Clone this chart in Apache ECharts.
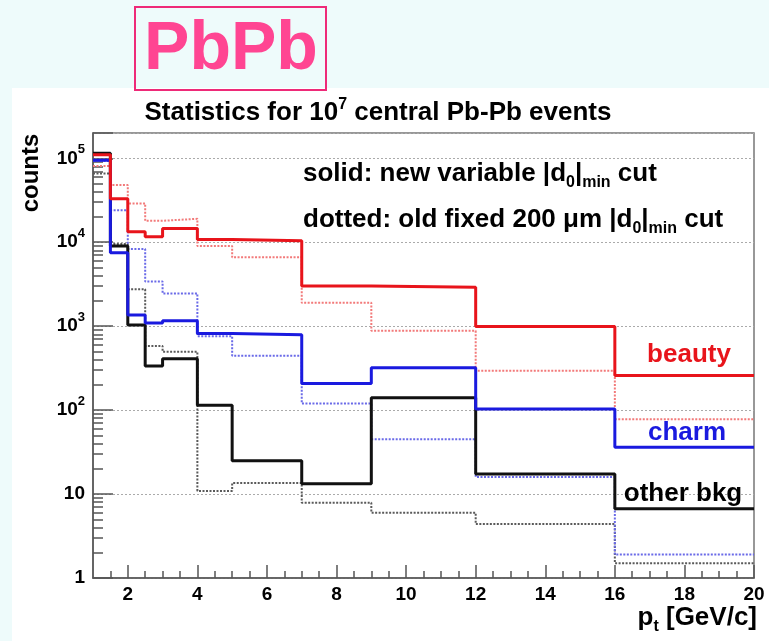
<!DOCTYPE html>
<html>
<head>
<meta charset="utf-8">
<script src="https://cdn.jsdelivr.net/npm/echarts@6/dist/echarts.min.js"></script>
<style>
  html, body { margin: 0; padding: 0; background: #eefbfb; }
  #chart { width: 769px; height: 641px; }
</style>
</head>
<body>
<div id="chart"></div>
<script>
// pt bin edges [GeV/c]
const binEdges = [1, 1.5, 2, 2.5, 3, 4, 5, 7, 9, 12, 16, 20];

// counts per bin, new variable |d0|min cut (solid)
const beautyNew = [110000, 33000, 13300, 11600, 14600, 10800, 10400, 3000, 2900, 990, 258];
const charmNew  = [95000, 7500, 1360, 1090, 1160, 820, 790, 207, 320, 103, 36];
const bkgNew    = [115000, 9000, 1030, 335, 410, 114, 25, 13.3, 140, 17.3, 6.7];

// counts per bin, old fixed 200 um |d0|min cut (dotted)
const beautyOld = [81000, 48000, 29000, 18000, 19000, 9000, 6600, 1900, 880, 295, 78];
const charmOld  = [93000, 24000, 8300, 3400, 2450, 760, 445, 120, 45, 16, 1.9];
const bkgOld    = [66000, 9500, 2750, 580, 495, 10.9, 13.5, 7.9, 6.0, 4.4, 1.5];

// axis ticks
const xMajorTicks = [2, 4, 6, 8, 10, 12, 14, 16, 18, 20];
const xMinorTicks = [1.5, 2.5, 3, 3.5, 4.5, 5, 5.5, 6.5, 7, 7.5, 8.5, 9, 9.5, 10.5, 11, 11.5,
                     12.5, 13, 13.5, 14.5, 15, 15.5, 16.5, 17, 17.5, 18.5, 19, 19.5];
const yMinorTicks = [];
for (let d = 1; d <= 100000; d *= 10) {
  for (let m = 2; m <= 9; m++) {
    if (m * d <= 200000) yMinorTicks.push(m * d);
  }
}

const FONT = 'Liberation Sans, Arial, Helvetica, sans-serif';

function histogram(values) {
  const pts = values.map((v, i) => [binEdges[i], v]);
  pts.push([binEdges[binEdges.length - 1], values[values.length - 1]]);
  return pts;
}

function stepSeries(name, values, color, width, dotted, z) {
  return {
    name: name,
    type: 'line',
    step: 'end',
    xAxisIndex: 0,
    yAxisIndex: 0,
    data: histogram(values),
    symbol: 'none',
    showSymbol: false,
    lineStyle: { color: color, width: width, type: dotted ? [2, 1.5] : 'solid', cap: 'butt' },
    z: z,
    silent: true
  };
}

const chart = echarts.init(document.getElementById('chart'), null, { renderer: 'canvas' });

const textBold = (size, color) => ({ fontFamily: FONT, fontWeight: 'bold', fontSize: size, fill: color || '#000' });
const subStyle = (size) => ({ fontFamily: FONT, fontWeight: 'bold', fontSize: size, verticalAlign: 'bottom', fill: '#000' });
const supStyle = (size) => ({ fontFamily: FONT, fontWeight: 'bold', fontSize: size, verticalAlign: 'top', fill: '#000' });

chart.setOption({
  backgroundColor: '#eefbfb',
  animation: false,
  grid: {
    left: 93, right: 15, top: 133, bottom: 63,
    show: true, borderColor: '#777', borderWidth: 1.5, backgroundColor: 'transparent'
  },
  xAxis: [
    {
      type: 'value', min: 1, max: 20,
      axisLine: { show: true, lineStyle: { color: '#555', width: 1.5 } },
      axisTick: { show: true, inside: true, length: 13, customValues: xMajorTicks,
                  lineStyle: { color: '#555', width: 1.5 } },
      axisLabel: { show: true, customValues: xMajorTicks, margin: 7,
                   fontFamily: FONT, fontWeight: 'bold', fontSize: 19, color: '#000' },
      splitLine: { show: false }
    },
    {
      type: 'value', min: 1, max: 20, position: 'bottom',
      axisLine: { show: false },
      axisTick: { show: true, inside: true, length: 7, customValues: xMinorTicks,
                  lineStyle: { color: '#555', width: 1.5 } },
      axisLabel: { show: false },
      splitLine: { show: false }
    }
  ],
  yAxis: [
    {
      type: 'log', logBase: 10, min: 1, max: 200000,
      axisLine: { show: true, lineStyle: { color: '#555', width: 1.5 } },
      axisTick: { show: true, inside: true, length: 20, lineStyle: { color: '#555', width: 1.5 } },
      axisLabel: {
        margin: 8,
        fontFamily: FONT, fontWeight: 'bold', fontSize: 19, color: '#000', lineHeight: 30,
        formatter: function (v) {
          const e = Math.log10(v);
          if (Math.abs(e - Math.round(e)) > 1e-6) return '';
          const n = Math.round(e);
          if (n === 0) return '1';
          if (n === 1) return '10';
          return '10{sup|' + n + '}';
        },
        rich: {
          sup: { fontFamily: FONT, fontWeight: 'bold', fontSize: 13, color: '#000', verticalAlign: 'top', lineHeight: 13 }
        }
      },
      splitLine: { show: true, lineStyle: { color: '#aaa', width: 1, type: [2, 2] } }
    },
    {
      type: 'log', logBase: 10, min: 1, max: 200000, position: 'left',
      axisLine: { show: false },
      axisTick: { show: true, inside: true, length: 10, customValues: yMinorTicks,
                  lineStyle: { color: '#555', width: 1.5 } },
      axisLabel: { show: false },
      splitLine: { show: false }
    }
  ],
  series: [
    stepSeries('other bkg, old cut', bkgOld, '#5a5a5a', 2, true, 2),
    stepSeries('charm, old cut', charmOld, '#6a6ae8', 2, true, 2),
    stepSeries('beauty, old cut', beautyOld, '#f27a7a', 2, true, 2),
    stepSeries('other bkg', bkgNew, '#111111', 3, false, 3),
    stepSeries('charm', charmNew, '#1a1adf', 3, false, 3),
    stepSeries('beauty', beautyNew, '#e8141b', 3, false, 3)
  ],
  graphic: [
    // white panel behind the plot
    { type: 'rect', z: -10, silent: true,
      shape: { x: 12, y: 88, width: 757, height: 553 },
      style: { fill: '#ffffff' } },
    // PbPb tag
    { type: 'rect', z: 10, silent: true,
      shape: { x: 135, y: 7, width: 191, height: 83 },
      style: { fill: 'transparent', stroke: '#ee2a78', lineWidth: 2 } },
    { type: 'text', z: 10, silent: true,
      style: Object.assign(textBold(68, '#ff4592'), { text: 'PbPb', x: 231, y: 50, textAlign: 'center', textVerticalAlign: 'middle' }) },
    // title
    { type: 'text', z: 10, silent: true,
      style: Object.assign(textBold(26, '#000'), {
        text: 'Statistics for 10{sup|7} central Pb-Pb events', x: 378, y: 113, lineHeight: 32,
        textAlign: 'center', textVerticalAlign: 'middle',
        rich: { sup: supStyle(16) }
      }) },
    // y axis name
    { type: 'text', z: 10, silent: true, x: 31, y: 173, rotation: Math.PI / 2,
      style: Object.assign(textBold(24, '#000'), { text: 'counts', x: 0, y: 0, textAlign: 'center', textVerticalAlign: 'middle' }) },
    // x axis name
    { type: 'text', z: 10, silent: true,
      style: Object.assign(textBold(26, '#000'), {
        text: 'p{sub|t} [GeV/c]', x: 757, y: 618, lineHeight: 34, textAlign: 'right', textVerticalAlign: 'middle',
        rich: { sub: subStyle(16) }
      }) },
    // legend text
    { type: 'text', z: 10, silent: true,
      style: Object.assign(textBold(26, '#000'), {
        text: 'solid: new variable |d{sub|0}|{sub|min} cut', x: 303, y: 174, lineHeight: 34, textAlign: 'left', textVerticalAlign: 'middle',
        rich: { sub: subStyle(16) }
      }) },
    { type: 'text', z: 10, silent: true,
      style: Object.assign(textBold(26, '#000'), {
        text: 'dotted: old fixed 200 \u03bcm |d{sub|0}|{sub|min} cut', x: 303, y: 220, lineHeight: 34, textAlign: 'left', textVerticalAlign: 'middle',
        rich: { sub: subStyle(16) }
      }) },
    { type: 'text', z: 10, silent: true,
      style: Object.assign(textBold(26, '#e8141b'), { text: 'beauty', x: 689, y: 355, textAlign: 'center', textVerticalAlign: 'middle' }) },
    { type: 'text', z: 10, silent: true,
      style: Object.assign(textBold(26, '#1a1adf'), { text: 'charm', x: 687, y: 433, textAlign: 'center', textVerticalAlign: 'middle' }) },
    { type: 'text', z: 10, silent: true,
      style: Object.assign(textBold(26, '#000'), { text: 'other bkg', x: 683, y: 494, textAlign: 'center', textVerticalAlign: 'middle' }) }
  ]
});
</script>
</body>
</html>
